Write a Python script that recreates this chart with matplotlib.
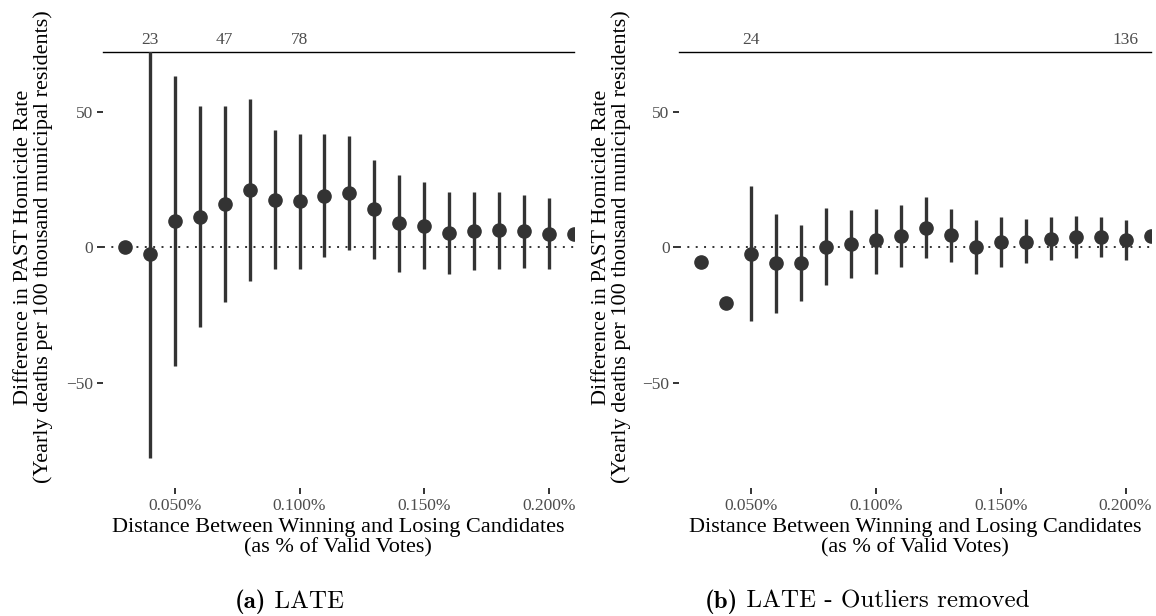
import matplotlib.pyplot as plt
import numpy as np

# margin of victory (% of valid votes)
margin = [0.03, 0.04, 0.05, 0.06, 0.07, 0.08, 0.09, 0.10, 0.11, 0.12,
          0.13, 0.14, 0.15, 0.16, 0.17, 0.18, 0.19, 0.20, 0.21]

# (a) LATE
late_est = [0.0, -2.5, 9.5, 11.1, 15.8, 21.0, 17.4, 16.9, 19.0, 20.0,
            14.1, 8.8, 8.0, 5.2, 5.8, 6.2, 5.8, 4.8, 4.8]
late_hi = [np.nan, 90.0, 63.2, 51.9, 51.9, 54.6, 43.1, 41.9, 41.9, 41.0,
           32.3, 26.5, 24.2, 20.5, 20.2, 20.2, 19.1, 18.1, np.nan]
late_lo = [np.nan, -77.6, -43.8, -29.6, -20.3, -12.3, -8.1, -7.9, -3.7, -1.0,
           -4.2, -9.0, -7.9, -10.0, -8.4, -7.9, -7.5, -8.1, np.nan]
count_x_a = [0.04, 0.07, 0.10]
count_a = ["23", "47", "78"]

# (b) LATE - outliers removed
out_est = [-5.3, -20.6, -2.5, -5.9, -5.9, 0.2, 1.1, 2.5, 4.3, 7.2,
           4.6, 0.0, 2.1, 2.1, 3.2, 3.7, 3.7, 2.7, 4.3]
out_hi = [np.nan, np.nan, 22.5, 12.2, 8.1, 14.4, 13.6, 14.2, 15.7, 18.5,
          14.1, 9.9, 11.0, 10.4, 11.0, 11.4, 11.0, 9.9, np.nan]
out_lo = [np.nan, np.nan, -27.4, -24.3, -20.0, -14.1, -11.5, -9.9, -7.2, -4.1,
          -5.3, -10.0, -7.2, -5.9, -4.7, -4.1, -3.5, -4.7, np.nan]
count_x_b = [0.05, 0.20]
count_b = ["24", "136"]

x_ticks = [0.05, 0.10, 0.15, 0.20]
x_ticklabels = ["0.050%", "0.100%", "0.150%", "0.200%"]
y_ticks = [-50, 0, 50]
y_ticklabels = ["\u221250", "0", "50"]

serif = "Liberation Serif"
grey = "#4d4d4d"
dark = "#333333"

fig = plt.figure(figsize=(11.56, 6.16), dpi=100)

panels = [
    (0.0888, late_est, late_lo, late_hi, count_x_a, count_a, 0.029),
    (0.5876, out_est, out_lo, out_hi, count_x_b, count_b, 0.529),
]

for left, est, lo, hi, cx, clab, ylab_x in panels:
    ax = fig.add_axes([left, 0.2078, 0.4077, 0.7083])
    ax.axhline(0, color=dark, lw=1.4, ls=(0, (1, 3.3)), zorder=1)
    ax.vlines(margin, lo, hi, colors=dark, lw=2.4, zorder=2)
    ax.plot(margin, est, "o", color=dark, ms=9.5, zorder=3)
    ax.set_xlim(0.0211, 0.21)
    ax.set_ylim(-88.8, 72.1)
    for s in ax.spines.values():
        s.set_visible(False)
    ax.set_xticks(x_ticks, x_ticklabels)
    ax.set_yticks(y_ticks, y_ticklabels)
    ax.tick_params(length=4, width=1.4, color=dark, labelcolor=grey,
                   labelsize=12.5, pad=3)
    for lab in ax.get_xticklabels() + ax.get_yticklabels():
        lab.set_family(serif)
    ax.set_xlabel("Distance Between Winning and Losing Candidates\n(as % of Valid Votes)",
                  family=serif, fontsize=16, linespacing=1.05, labelpad=3)

    sec = ax.secondary_xaxis("top")
    sec.set_xticks(cx, clab)
    sec.tick_params(length=0, pad=3, labelcolor=grey, labelsize=12.5)
    for lab in sec.get_xticklabels():
        lab.set_family(serif)
    sec.spines["top"].set_linewidth(1.0)
    sec.spines["top"].set_color("black")

    fig.text(ylab_x, 0.599,
             "Difference in PAST Homicide Rate\n(Yearly deaths per 100 thousand municipal residents)",
             rotation=90, ha="center", va="center", family=serif, fontsize=16,
             linespacing=1.05)

# captions: bold label + regular title in Computer Modern
fig.canvas.draw()
renderer = fig.canvas.get_renderer()
for cx_fig, tag, title in [(0.25, "(a)", " LATE"), (0.75, "(b)", " LATE - Outliers removed")]:
    t1 = fig.text(0, 0.013, tag, family="cmb10", fontsize=18, va="baseline")
    t2 = fig.text(0, 0.013, title, family="cmr10", fontsize=18, va="baseline")
    w1 = t1.get_window_extent(renderer).width / fig.bbox.width
    w2 = t2.get_window_extent(renderer).width / fig.bbox.width
    start = cx_fig - (w1 + w2) / 2
    t1.set_x(start)
    t2.set_x(start + w1)

fig.savefig("out.png", dpi=100)
